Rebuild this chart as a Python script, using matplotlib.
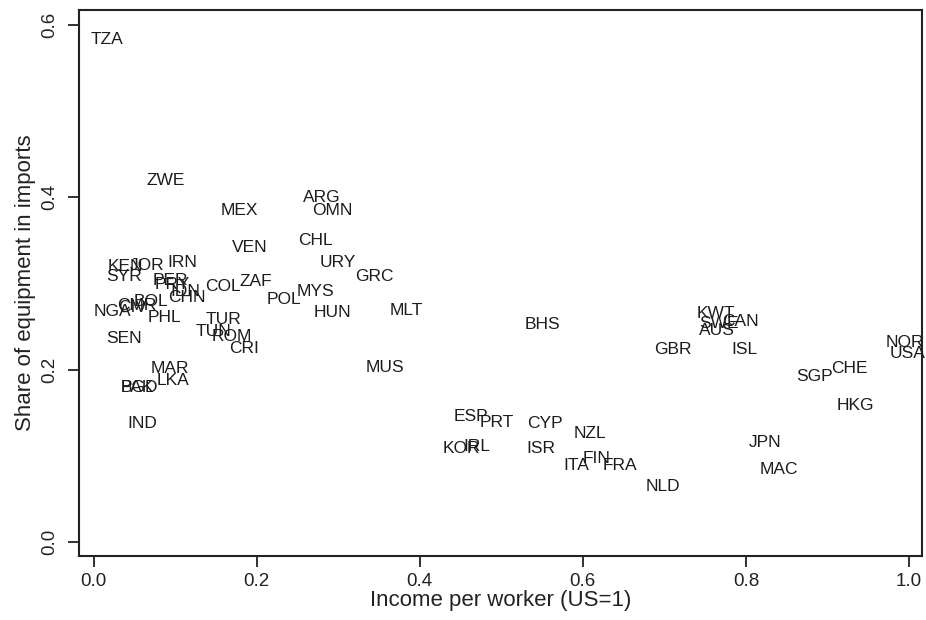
import matplotlib
matplotlib.use("Agg")
import matplotlib.pyplot as plt
from matplotlib import font_manager


countries = ["TZA", "ZWE", "MEX", "ARG", "OMN", "VEN", "CHL", "URY", "GRC",
             "KEN", "JOR", "IRN", "SYR", "PER", "PRY", "IDN", "CHN", "COL",
             "ZAF", "MYS", "POL", "HUN", "MLT", "CIV", "CMR", "BOL", "NGA",
             "PHL", "TUR", "TUN", "ROM", "CRI", "SEN", "MAR", "LKA", "PAK",
             "BGD", "IND", "MUS", "BHS", "ESP", "PRT", "CYP", "NZL", "KOR",
             "IRL", "ISR", "ITA", "FIN", "FRA", "NLD", "GBR", "KWT", "SWE",
             "CAN", "AUS", "ISL", "SGP", "CHE", "HKG", "JPN", "MAC", "NOR",
             "USA"]
income = [0.016, 0.089, 0.179, 0.280, 0.293, 0.191, 0.272, 0.299, 0.344,
          0.039, 0.066, 0.109, 0.038, 0.094, 0.096, 0.112, 0.114, 0.159,
          0.199, 0.272, 0.234, 0.293, 0.384, 0.048, 0.053, 0.071, 0.023,
          0.087, 0.159, 0.147, 0.169, 0.185, 0.037, 0.094, 0.097, 0.054,
          0.056, 0.060, 0.357, 0.550, 0.463, 0.495, 0.554, 0.609, 0.451,
          0.470, 0.548, 0.592, 0.617, 0.645, 0.698, 0.711, 0.763, 0.767,
          0.793, 0.764, 0.798, 0.884, 0.927, 0.934, 0.823, 0.840, 0.995,
          0.998]
equip_share = [0.583, 0.420, 0.385, 0.400, 0.385, 0.342, 0.350, 0.324, 0.308,
               0.320, 0.321, 0.324, 0.308, 0.304, 0.299, 0.291, 0.284, 0.297,
               0.302, 0.291, 0.282, 0.266, 0.269, 0.272, 0.275, 0.279, 0.267,
               0.260, 0.258, 0.244, 0.239, 0.225, 0.236, 0.201, 0.187, 0.179,
               0.179, 0.137, 0.202, 0.252, 0.146, 0.139, 0.137, 0.126, 0.109,
               0.111, 0.109, 0.089, 0.097, 0.089, 0.065, 0.223, 0.265, 0.254,
               0.256, 0.246, 0.223, 0.192, 0.201, 0.159, 0.116, 0.084, 0.232,
               0.219]

x_ticks = [0.0, 0.2, 0.4, 0.6, 0.8, 1.0]
y_ticks = [0.0, 0.2, 0.4, 0.6]

installed = {f.name for f in font_manager.fontManager.ttflist}
if "Liberation Sans Narrow" in installed:
    axis_font = ["Liberation Sans Narrow", "DejaVu Sans"]
    tick_size, title_size = 16.5, 19.5
else:
    axis_font = ["Liberation Sans", "DejaVu Sans"]
    tick_size, title_size = 13.5, 16

fig = plt.figure(figsize=(9.26, 6.2), dpi=100)
ax = fig.add_axes([0.0853, 0.1032, 0.9104, 0.8807])

for name, xv, yv in zip(countries, income, equip_share):
    ax.text(xv, yv, name, ha="center", va="center", fontsize=12.5,
            family=["Liberation Sans", "DejaVu Sans"], color="#1c1c1c")

ax.set_xlim(-0.0178, 1.0159)
ax.set_ylim(-0.0162, 0.6174)
ax.set_xticks(x_ticks)
ax.set_xticklabels([f"{t:.1f}" for t in x_ticks], family=axis_font,
                   fontsize=tick_size, color="#222222")
ax.set_yticks(y_ticks)
ax.set_yticklabels([f"{t:.1f}" for t in y_ticks], family=axis_font,
                   fontsize=tick_size, color="#222222", rotation=90,
                   va="center")
ax.tick_params(axis="x", length=8, width=1.3, pad=4, color="#222222")
ax.tick_params(axis="y", length=8, width=1.3, pad=7, color="#222222")

ax.set_xlabel("Income per worker (US=1)", family=axis_font,
              fontsize=title_size, color="#222222", labelpad=0)
ax.set_ylabel("Share of equipment in imports", family=axis_font,
              fontsize=title_size, color="#222222", labelpad=4)

for side in ax.spines.values():
    side.set_linewidth(1.5)
    side.set_color("#222222")

fig.savefig("out.png", dpi=100)
